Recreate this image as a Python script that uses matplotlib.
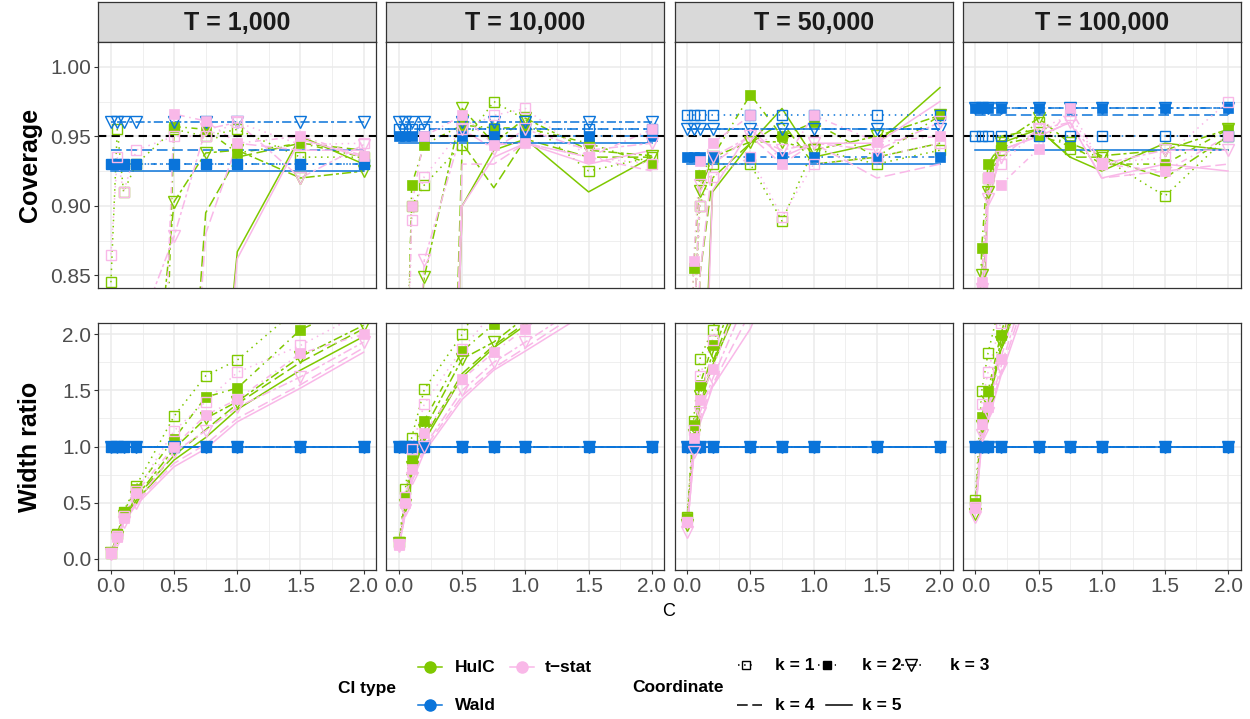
import matplotlib
matplotlib.use("Agg")
import matplotlib.pyplot as plt
from matplotlib.lines import Line2D

plt.rcParams['font.family'] = ['Liberation Sans', 'DejaVu Sans']

# ---------------- data ----------------
C_VALUES = [0.0, 0.05, 0.1, 0.2, 0.5, 0.75, 1.0, 1.5, 2.0]
T_LABELS = ["T = 1,000", "T = 10,000", "T = 50,000", "T = 100,000"]
K_LABELS = ["k = 1", "k = 2", "k = 3", "k = 4", "k = 5"]
CI_TYPES = ["HulC", "Wald", "t\u2212stat"]
TARGET_COVERAGE = 0.95

# coverage, rows = k = 1..5, columns = C_VALUES
HULC_COV_1000 = [
    [0.845, 0.955, 0.910, 0.930, 0.955, 0.950, 0.955, 0.935, 0.935],
    [0.050, 0.080, 0.100, 0.100, 0.957, 0.955, 0.938, 0.945, 0.935],
    [0.300, 0.400, 0.500, 0.627, 0.903, 0.938, 0.940, 0.920, 0.925],
    [0.200, 0.300, 0.400, 0.500, 0.580, 0.895, 0.935, 0.945, 0.940],
    [0.100, 0.200, 0.300, 0.400, 0.500, 0.630, 0.867, 0.950, 0.930],
]
TSTAT_COV_1000 = [
    [0.865, 0.935, 0.910, 0.940, 0.950, 0.950, 0.960, 0.944, 0.945],
    [0.050, 0.080, 0.150, 0.235, 0.966, 0.961, 0.945, 0.950, 0.936],
    [0.400, 0.500, 0.650, 0.806, 0.878, 0.955, 0.960, 0.920, 0.944],
    [0.200, 0.300, 0.400, 0.500, 0.560, 0.880, 0.945, 0.940, 0.940],
    [0.100, 0.200, 0.300, 0.400, 0.500, 0.600, 0.862, 0.948, 0.935],
]
HULC_COV_10000 = [
    [0.500, 0.750, 0.900, 0.915, 0.944, 0.975, 0.962, 0.925, 0.935],
    [0.400, 0.700, 0.915, 0.944, 0.958, 0.956, 0.956, 0.945, 0.930],
    [0.300, 0.600, 0.750, 0.849, 0.970, 0.945, 0.963, 0.940, 0.936],
    [0.050, 0.050, 0.050, 0.050, 0.945, 0.913, 0.948, 0.935, 0.935],
    [0.050, 0.050, 0.050, 0.050, 0.900, 0.940, 0.948, 0.910, 0.935],
]
TSTAT_COV_10000 = [
    [0.500, 0.750, 0.890, 0.921, 0.955, 0.965, 0.970, 0.935, 0.930],
    [0.400, 0.650, 0.900, 0.950, 0.965, 0.944, 0.945, 0.935, 0.955],
    [0.300, 0.550, 0.700, 0.861, 0.955, 0.941, 0.955, 0.940, 0.945],
    [0.050, 0.050, 0.050, 0.050, 0.930, 0.930, 0.945, 0.935, 0.925],
    [0.050, 0.050, 0.050, 0.050, 0.900, 0.935, 0.945, 0.930, 0.940],
]
HULC_COV_50000 = [
    [0.500, 0.800, 0.900, 0.930, 0.930, 0.889, 0.941, 0.930, 0.940],
    [0.700, 0.855, 0.922, 0.935, 0.980, 0.950, 0.960, 0.935, 0.965],
    [0.600, 0.800, 0.911, 0.935, 0.946, 0.946, 0.940, 0.950, 0.965],
    [0.300, 0.600, 0.850, 0.920, 0.945, 0.960, 0.930, 0.935, 0.945],
    [0.100, 0.400, 0.700, 0.910, 0.945, 0.970, 0.935, 0.945, 0.985],
]
TSTAT_COV_50000 = [
    [0.500, 0.800, 0.900, 0.921, 0.935, 0.892, 0.930, 0.935, 0.945],
    [0.700, 0.860, 0.932, 0.945, 0.965, 0.930, 0.965, 0.946, 0.950],
    [0.600, 0.800, 0.915, 0.935, 0.950, 0.940, 0.945, 0.940, 0.960],
    [0.300, 0.600, 0.850, 0.930, 0.950, 0.930, 0.945, 0.920, 0.930],
    [0.100, 0.400, 0.650, 0.911, 0.955, 0.935, 0.945, 0.945, 0.975],
]
HULC_COV_100000 = [
    [0.600, 0.830, 0.920, 0.940, 0.960, 0.941, 0.935, 0.907, 0.950],
    [0.700, 0.870, 0.930, 0.944, 0.950, 0.944, 0.930, 0.930, 0.955],
    [0.600, 0.850, 0.910, 0.945, 0.963, 0.945, 0.936, 0.940, 0.955],
    [0.500, 0.800, 0.920, 0.950, 0.955, 0.935, 0.935, 0.920, 0.950],
    [0.400, 0.750, 0.920, 0.945, 0.955, 0.935, 0.925, 0.945, 0.940],
]
TSTAT_COV_100000 = [
    [0.600, 0.840, 0.920, 0.930, 0.955, 0.965, 0.930, 0.935, 0.975],
    [0.600, 0.845, 0.921, 0.915, 0.941, 0.970, 0.930, 0.925, 0.950],
    [0.600, 0.840, 0.905, 0.935, 0.955, 0.960, 0.930, 0.940, 0.940],
    [0.500, 0.800, 0.910, 0.940, 0.950, 0.960, 0.920, 0.925, 0.930],
    [0.400, 0.750, 0.900, 0.940, 0.950, 0.960, 0.920, 0.930, 0.925],
]
# Wald coverage, one value per k (k = 1..5)
WALD_COV_1000 = [0.930, 0.930, 0.960, 0.940, 0.925]
WALD_COV_10000 = [0.955, 0.950, 0.960, 0.955, 0.945]
WALD_COV_50000 = [0.965, 0.935, 0.955, 0.955, 0.930]
WALD_COV_100000 = [0.950, 0.970, 0.970, 0.965, 0.940]

# width ratio (relative to Wald)
HULC_WIDTH_1000 = [
    [0.05, 0.22, 0.42, 0.65, 1.27, 1.63, 1.77, 2.25, 2.50],
    [0.05, 0.21, 0.42, 0.62, 1.07, 1.44, 1.52, 2.04, 2.30],
    [0.05, 0.19, 0.38, 0.55, 0.98, 1.25, 1.40, 1.80, 2.08],
    [0.05, 0.18, 0.36, 0.55, 0.92, 1.15, 1.38, 1.75, 2.05],
    [0.05, 0.18, 0.35, 0.52, 0.88, 1.08, 1.33, 1.68, 1.98],
]
TSTAT_WIDTH_1000 = [
    [0.05, 0.20, 0.38, 0.60, 1.14, 1.40, 1.66, 1.90, 2.20],
    [0.05, 0.19, 0.36, 0.59, 1.00, 1.28, 1.42, 1.83, 2.00],
    [0.04, 0.17, 0.33, 0.50, 0.95, 1.14, 1.35, 1.62, 1.93],
    [0.04, 0.16, 0.33, 0.50, 0.85, 1.02, 1.25, 1.55, 1.88],
    [0.04, 0.16, 0.32, 0.48, 0.82, 0.98, 1.22, 1.52, 1.84],
]
HULC_WIDTH_10000 = [
    [0.15, 0.62, 1.08, 1.51, 2.00, 2.50, 2.90, 3.50, 4.00],
    [0.15, 0.55, 0.88, 1.23, 1.85, 2.09, 2.40, 2.90, 3.30],
    [0.14, 0.48, 0.82, 1.15, 1.78, 1.93, 2.15, 2.60, 3.00],
    [0.13, 0.45, 0.78, 1.08, 1.65, 1.90, 2.10, 2.50, 2.90],
    [0.13, 0.44, 0.75, 1.05, 1.62, 1.88, 2.08, 2.45, 2.85],
]
TSTAT_WIDTH_10000 = [
    [0.13, 0.55, 0.98, 1.38, 1.87, 2.20, 2.50, 3.00, 3.50],
    [0.12, 0.50, 0.80, 1.12, 1.60, 1.84, 2.05, 2.50, 2.90],
    [0.11, 0.43, 0.72, 1.00, 1.50, 1.75, 1.93, 2.30, 2.70],
    [0.11, 0.40, 0.70, 0.98, 1.45, 1.70, 1.88, 2.25, 2.60],
    [0.11, 0.40, 0.68, 0.95, 1.42, 1.68, 1.85, 2.20, 2.55],
]
HULC_WIDTH_50000 = [
    [0.37, 1.23, 1.78, 2.04, 3.20, 3.90, 4.50, 5.50, 6.30],
    [0.36, 1.19, 1.55, 1.90, 2.90, 3.50, 4.00, 4.90, 5.60],
    [0.30, 1.10, 1.45, 1.83, 2.70, 3.30, 3.80, 4.60, 5.30],
    [0.28, 1.05, 1.40, 1.75, 2.60, 3.20, 3.70, 4.50, 5.20],
    [0.28, 1.00, 1.38, 1.72, 2.50, 3.10, 3.60, 4.40, 5.10],
]
TSTAT_WIDTH_50000 = [
    [0.33, 1.15, 1.63, 1.95, 3.00, 3.70, 4.30, 5.20, 6.00],
    [0.33, 1.08, 1.41, 1.69, 2.60, 3.20, 3.70, 4.50, 5.20],
    [0.24, 0.95, 1.30, 1.60, 2.40, 3.00, 3.50, 4.30, 5.00],
    [0.26, 0.90, 1.25, 1.55, 2.20, 2.80, 3.30, 4.00, 4.70],
    [0.26, 0.90, 1.20, 1.53, 2.05, 2.70, 3.20, 3.90, 4.60],
]
HULC_WIDTH_100000 = [
    [0.52, 1.49, 1.83, 2.30, 3.60, 4.40, 5.10, 6.20, 7.20],
    [0.50, 1.26, 1.49, 1.99, 3.20, 3.90, 4.50, 5.50, 6.40],
    [0.40, 1.18, 1.40, 1.93, 3.00, 3.70, 4.30, 5.30, 6.10],
    [0.42, 1.15, 1.38, 1.88, 2.90, 3.60, 4.20, 5.10, 5.90],
    [0.42, 1.12, 1.35, 1.85, 2.80, 3.50, 4.10, 5.00, 5.80],
]
TSTAT_WIDTH_100000 = [
    [0.46, 1.38, 1.66, 2.10, 3.40, 4.20, 4.80, 5.90, 6.80],
    [0.45, 1.20, 1.35, 1.78, 2.90, 3.60, 4.20, 5.10, 5.90],
    [0.37, 1.10, 1.30, 1.70, 2.80, 3.40, 4.00, 4.90, 5.70],
    [0.40, 1.05, 1.25, 1.65, 2.70, 3.30, 3.90, 4.80, 5.60],
    [0.40, 1.02, 1.22, 1.62, 2.60, 3.20, 3.80, 4.70, 5.50],
]
WALD_WIDTH = [1.0, 1.0, 1.0, 1.0, 1.0, 1.0, 1.0, 1.0, 1.0]

HULC_COV = [HULC_COV_1000, HULC_COV_10000, HULC_COV_50000, HULC_COV_100000]
TSTAT_COV = [TSTAT_COV_1000, TSTAT_COV_10000, TSTAT_COV_50000, TSTAT_COV_100000]
WALD_COV = [WALD_COV_1000, WALD_COV_10000, WALD_COV_50000, WALD_COV_100000]
HULC_WIDTH = [HULC_WIDTH_1000, HULC_WIDTH_10000, HULC_WIDTH_50000, HULC_WIDTH_100000]
TSTAT_WIDTH = [TSTAT_WIDTH_1000, TSTAT_WIDTH_10000, TSTAT_WIDTH_50000, TSTAT_WIDTH_100000]

# ---------------- style ----------------
COLORS = {"HulC": "#7FC800", "Wald": "#0A74DA", "t\u2212stat": "#F9B8E8"}
K_DASHES = [(1, 3), (1, 3, 4, 3), (2, 2, 6, 2), (7, 3), None]
K_MARKERS = ['s', 's', 'v', None, None]
K_FILLS = ['none', 'full', 'none', 'full', 'full']
K_MS = [7, 7, 9, 7, 7]
LW = 1.1

W, H = 1250, 719
fig = plt.figure(figsize=(W / 100, H / 100), dpi=100)

def px_axes(x0, y0, x1, y1):
    return fig.add_axes([x0 / W, 1 - y1 / H, (x1 - x0) / W, (y1 - y0) / H])

LEFTS = [98.3, 386.4, 674.6, 962.7]
PW = 278.0
TOP_ROW = (41.7, 288.3)
BOT_ROW = (323.0, 570.0)
STRIP = (1.7, 41.7)

TICK_COLOR = "#333333"
LABEL_COLOR = "#4D4D4D"

def style_axes(ax, yticks, yminor, ylim, show_y, show_x):
    ax.set_xlim(-0.1, 2.1)
    ax.set_ylim(*ylim)
    ax.set_xticks([0, 0.5, 1.0, 1.5, 2.0])
    ax.set_xticks([0.25, 0.75, 1.25, 1.75], minor=True)
    ax.set_yticks(yticks)
    ax.set_yticks(yminor, minor=True)
    ax.grid(True, which='major', color='#EBEBEB', lw=1.1, zorder=0)
    ax.grid(True, which='minor', color='#EBEBEB', lw=0.55, zorder=0)
    ax.set_axisbelow(True)
    for s in ax.spines.values():
        s.set_color(TICK_COLOR)
        s.set_linewidth(0.9)
        s.set_zorder(10)
    ax.tick_params(which='minor', length=0)
    ax.tick_params(which='major', length=3.2, width=0.8, color=TICK_COLOR,
                   labelcolor=LABEL_COLOR, labelsize=15, pad=2)
    ax.tick_params(axis='y', left=show_y, labelleft=show_y)
    ax.tick_params(axis='x', bottom=show_x, labelbottom=show_x)

def draw_series(ax, x, y, color, k, zl, zp):
    d = K_DASHES[k]
    line, = ax.plot(x, y, color=color, lw=LW, zorder=zl)
    if d is not None:
        line.set_dashes(d)
    m = K_MARKERS[k]
    if m is not None:
        if K_FILLS[k] == 'none':
            ax.plot(x, y, linestyle='none', marker=m, ms=K_MS[k], mfc='none',
                    mec=color, mew=1.0, zorder=zp)
        else:
            ax.plot(x, y, linestyle='none', marker=m, ms=K_MS[k], mfc=color,
                    mec=color, mew=0.5, zorder=zp)

for j in range(4):
    x0 = LEFTS[j]
    # strip
    sax = px_axes(x0, STRIP[0], x0 + PW, STRIP[1])
    sax.set_facecolor('#D9D9D9')
    sax.set_xticks([]); sax.set_yticks([])
    for s in sax.spines.values():
        s.set_color(TICK_COLOR); s.set_linewidth(0.9)
    sax.text(0.5, 0.47, T_LABELS[j], transform=sax.transAxes, ha='center',
             va='center', fontsize=18, fontweight='bold', color='#1A1A1A')

    # coverage
    ax = px_axes(x0, TOP_ROW[0], x0 + PW, TOP_ROW[1])
    style_axes(ax, [0.85, 0.90, 0.95, 1.00], [0.875, 0.925, 0.975],
               (0.8407, 1.018), j == 0, False)
    ax.set_yticklabels(["0.85", "0.90", "0.95", "1.00"])
    for k in range(5):
        draw_series(ax, C_VALUES, HULC_COV[j][k], COLORS["HulC"], k, 2.0, 4.0)
    for k in range(5):
        wald = [WALD_COV[j][k] for _ in C_VALUES]
        draw_series(ax, C_VALUES, wald, COLORS["Wald"], k, 2.1, 4.1)
    for k in range(5):
        draw_series(ax, C_VALUES, TSTAT_COV[j][k], COLORS["t\u2212stat"], k, 2.2, 4.2)
    ref = ax.axhline(TARGET_COVERAGE, color='black', lw=1.5, zorder=3)
    ref.set_dashes((4, 2.5))

    # width ratio
    ax2 = px_axes(x0, BOT_ROW[0], x0 + PW, BOT_ROW[1])
    style_axes(ax2, [0.0, 0.5, 1.0, 1.5, 2.0], [0.25, 0.75, 1.25, 1.75],
               (-0.1, 2.1), j == 0, True)
    ax2.set_yticklabels(["0.0", "0.5", "1.0", "1.5", "2.0"])
    ax2.set_xticklabels(["0.0", "0.5", "1.0", "1.5", "2.0"])
    for k in range(5):
        draw_series(ax2, C_VALUES, HULC_WIDTH[j][k], COLORS["HulC"], k, 2.0, 4.0)
    for k in range(5):
        draw_series(ax2, C_VALUES, WALD_WIDTH, COLORS["Wald"], k, 2.1, 4.1)
    for k in range(5):
        draw_series(ax2, C_VALUES, TSTAT_WIDTH[j][k], COLORS["t\u2212stat"], k, 2.2, 4.2)

# axis titles
fig.text(30 / W, 1 - 165 / H, "Coverage", rotation=90, ha='center', va='center',
         fontsize=18, fontweight='bold', color='black')
fig.text(30 / W, 1 - 446.5 / H, "Width ratio", rotation=90, ha='center', va='center',
         fontsize=18, fontweight='bold', color='black')
fig.text(669 / W, 1 - 612 / H, "C", ha='center', va='center', fontsize=13, color='black')

# ---------------- legends (drawn in figure pixels) ----------------
def fx(x):
    return x / W

def fy(y):
    return 1 - y / H

def key(x0, x1, y, color, dashes=None, marker=None, fill='full', ms=7):
    ln = Line2D([fx(x0), fx(x1)], [fy(y), fy(y)], transform=fig.transFigure,
                color=color, lw=LW)
    if dashes is not None:
        ln.set_dashes(dashes)
    fig.add_artist(ln)
    if marker is not None:
        xm = (x0 + x1) / 2
        mk = Line2D([fx(xm)], [fy(y)], transform=fig.transFigure, linestyle='none',
                    marker=marker, ms=ms, mfc=('none' if fill == 'none' else color),
                    mec=color, mew=1.0)
        fig.add_artist(mk)

def label(x, y, s):
    fig.text(fx(x), fy(y), s, ha='left', va='center', fontsize=12.5,
             fontweight='bold', color='black')

label(338, 688, "CI type")
key(418, 442, 667, COLORS["HulC"], marker='o', ms=8)
label(455, 667, CI_TYPES[0])
key(418, 442, 705, COLORS["Wald"], marker='o', ms=8)
label(455, 705, CI_TYPES[1])
key(510, 534, 667, COLORS["t\u2212stat"], marker='o', ms=8)
label(545, 667, CI_TYPES[2])

label(632, 688, "Coordinate")
key_pos = [(738, 753, 665, 775), (818, 836, 665, 862), (901, 921, 665, 950),
           (737, 762, 705, 775), (826, 852, 705, 862)]
for k in range(5):
    xa, xb, yy, xt = key_pos[k]
    key(xa, xb, yy, 'black', dashes=K_DASHES[k], marker=K_MARKERS[k],
        fill=K_FILLS[k], ms=(6 if k < 2 else 8))
    label(xt, yy, K_LABELS[k])

fig.savefig("out.png", dpi=100)
